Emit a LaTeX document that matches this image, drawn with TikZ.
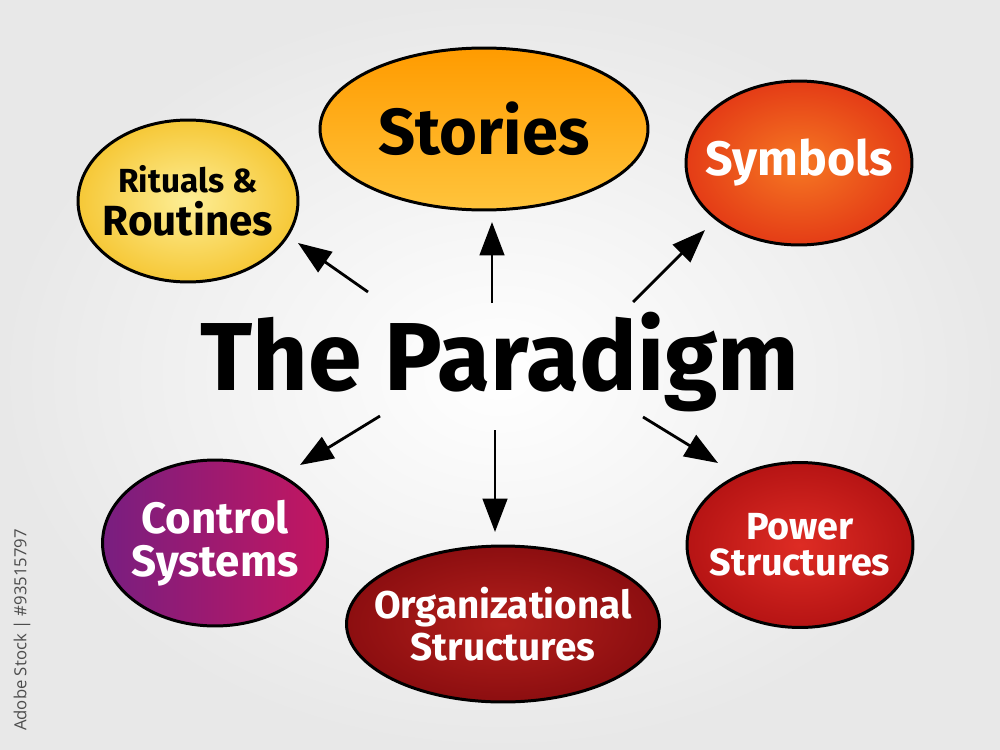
\documentclass[tikz,border=0pt]{standalone}
\usepackage{fontspec}
\setmainfont{Fira Sans}
\newfontfamily\markfont{Open Sans}
\usetikzlibrary{positioning,arrows.meta,shapes.geometric}
\definecolor{cRitIn}{RGB}{253,238,150}
\definecolor{cRitOut}{RGB}{246,200,55}
\definecolor{cStoTop}{RGB}{255,155,0}
\definecolor{cStoBot}{RGB}{255,196,60}
\definecolor{cSymIn}{RGB}{246,120,35}
\definecolor{cSymOut}{RGB}{228,60,22}
\definecolor{cConL}{RGB}{120,30,128}
\definecolor{cConR}{RGB}{196,22,96}
\definecolor{cOrgIn}{RGB}{180,32,28}
\definecolor{cOrgOut}{RGB}{140,14,16}
\definecolor{cPowIn}{RGB}{222,44,36}
\definecolor{cPowOut}{RGB}{182,20,20}

\begin{document}
\begin{tikzpicture}[x=0.02cm,y=-0.02cm,
    bubble/.style={ellipse,draw=black,line width=1.7pt,inner sep=-30pt,align=center,font=\bfseries},
    arr/.style={line width=1.6pt,-{Triangle[length=19pt,width=14pt]}}]
  \useasboundingbox (0,0) rectangle (1000,750);
  \shade[inner color=white,outer color=gray!18] (0,0) rectangle (1000,750);
  % central topic
  \node[font=\fontsize{55}{55}\selectfont\bfseries] (para) at (500,362) {The Paradigm};
  % bubbles
  \node[bubble,minimum width=4.4cm,minimum height=3.24cm,inner color=cRitIn,outer color=cRitOut] (rit) at (188,201)
    {{\fontsize{19}{22}\selectfont Rituals \&}\\[4pt]{\fontsize{24}{26}\selectfont Routines}};
  \node[bubble,minimum width=6.56cm,minimum height=3.24cm,top color=cStoTop,bottom color=cStoBot] (sto) at (484,129)
    {\fontsize{37}{40}\selectfont Stories};
  \node[bubble,minimum width=4.52cm,minimum height=3.28cm,inner color=cSymIn,outer color=cSymOut,text=white] (sym) at (799,163)
    {\fontsize{27.5}{30}\selectfont Symbols};
  \node[bubble,minimum width=4.5cm,minimum height=3.32cm,left color=cConL,right color=cConR,text=white] (con) at (215,543)
    {\fontsize{25}{28}\selectfont Control\\[5pt]\fontsize{25}{28}\selectfont Systems};
  \node[bubble,minimum width=6.26cm,minimum height=3.12cm,inner color=cOrgIn,outer color=cOrgOut,text=white] (org) at (503,624)
    {\fontsize{22}{27}\selectfont Organizational\\[2pt]\fontsize{22}{27}\selectfont Structures};
  \node[bubble,minimum width=4.52cm,minimum height=3.3cm,inner color=cPowIn,outer color=cPowOut,text=white] (pow) at (800,545)
    {\fontsize{21.5}{25}\selectfont Power\\[4pt]\fontsize{21.5}{25}\selectfont Structures};
  % arrow ends
  \coordinate (a1) at (368,292); \coordinate (b1) at (298,243);
  \coordinate (a2) at (492,303); \coordinate (b2) at (492,222);
  \coordinate (a3) at (633,302); \coordinate (b3) at (705,230);
  \coordinate (a4) at (380,416); \coordinate (b4) at (300,465);
  \coordinate (a5) at (495,430); \coordinate (b5) at (495,532);
  \coordinate (a6) at (643,417); \coordinate (b6) at (718,463);
  \foreach \i in {1,...,6}
    \draw[arr] (a\i) -- (b\i);
  % stock mark
  \node[font=\markfont\fontsize{9.5}{10}\selectfont,text=gray!60!black,rotate=90] (mark) at (22,630) {Adobe Stock | \#93515797};
\end{tikzpicture}
\end{document}
